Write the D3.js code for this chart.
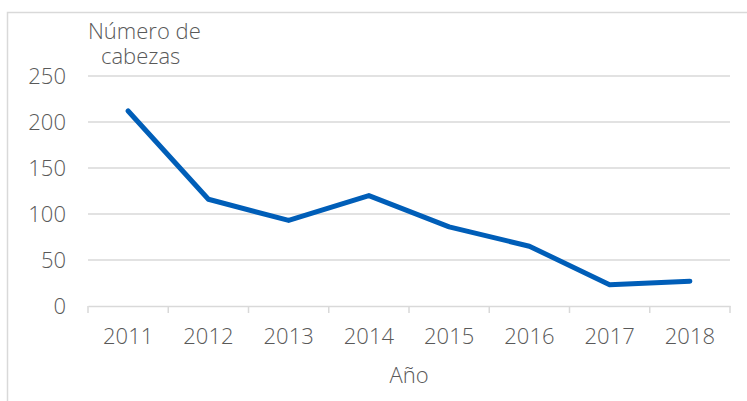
<!DOCTYPE html>
<meta charset="utf-8">
<title>Número de cabezas</title>
<style>
body { margin: 0; background: #fff; }
svg { display: block; }
.tick text, .lbl { font-family: "Open Sans", Lato, sans-serif; font-weight: 300; fill: #595959; }
</style>
<svg width="747" height="401"></svg>
<script src="https://cdnjs.cloudflare.com/ajax/libs/d3/7.8.5/d3.min.js"></script>
<script>
var years = ["2011", "2012", "2013", "2014", "2015", "2016", "2017", "2018"];
var cabezas = [212, 116, 93, 120, 86, 65, 23, 27];
var yTicks = [0, 50, 100, 150, 200, 250];

var svg = d3.select("svg");
var plotLeft = 88, plotRight = 730, plotTop = 76, plotBottom = 306;

// chart frame (only top/left visible in the crop)
svg.append("rect")
    .attr("x", 7.5).attr("y", 12.5)
    .attr("width", 760).attr("height", 400)
    .attr("fill", "none").attr("stroke", "#d9d9d9").attr("stroke-width", 1.5);

var x = d3.scaleBand().domain(years).range([plotLeft, plotRight]);
var y = d3.scaleLinear().domain([0, 250]).range([plotBottom, plotTop]);

// gridlines
svg.append("g").selectAll("line")
  .data(yTicks.slice(1))
  .enter().append("line")
    .attr("x1", plotLeft).attr("x2", plotRight)
    .attr("y1", function(d) { return y(d); })
    .attr("y2", function(d) { return y(d); })
    .attr("stroke", "#d9d9d9").attr("stroke-width", 1.5);

// y axis labels
var yAxis = svg.append("g")
    .attr("transform", "translate(" + plotLeft + ",0)")
    .call(d3.axisLeft(y).tickValues(yTicks).tickSize(0).tickPadding(22));
yAxis.select(".domain").remove();
yAxis.selectAll("text").style("font-size", "22px");

// x axis
var xAxis = svg.append("g")
    .attr("transform", "translate(0," + plotBottom + ")")
    .call(d3.axisBottom(x).tickSize(0).tickPadding(22));
xAxis.select(".domain").attr("stroke", "#d9d9d9").attr("stroke-width", 1.5);
xAxis.selectAll("text").style("font-size", "22px");
xAxis.selectAll(".sep")
  .data(years.concat(["end"]))
  .enter().append("line")
    .attr("class", "sep")
    .attr("x1", function(d, i) { return plotLeft + i * x.step(); })
    .attr("x2", function(d, i) { return plotLeft + i * x.step(); })
    .attr("y1", 0).attr("y2", 7)
    .attr("stroke", "#d9d9d9").attr("stroke-width", 1.5);

// the line
var line = d3.line()
    .x(function(d, i) { return x(years[i]) + x.bandwidth() / 2; })
    .y(function(d) { return y(d); });

svg.append("path")
    .datum(cabezas)
    .attr("d", line)
    .attr("fill", "none")
    .attr("stroke", "#005EB8")
    .attr("stroke-width", 5)
    .attr("stroke-linejoin", "round")
    .attr("stroke-linecap", "round");

// titles
var yTitle = svg.append("text").attr("class", "lbl")
    .attr("y", 39)
    .style("font-size", "22px");
yTitle.append("tspan").attr("x", 88).text("Número de");
yTitle.append("tspan").attr("x", 101).attr("dy", 25).text("cabezas");

svg.append("text").attr("class", "lbl")
    .attr("x", (plotLeft + plotRight) / 2).attr("y", 383)
    .attr("text-anchor", "middle")
    .style("font-size", "22px")
    .text("Año");
</script>
